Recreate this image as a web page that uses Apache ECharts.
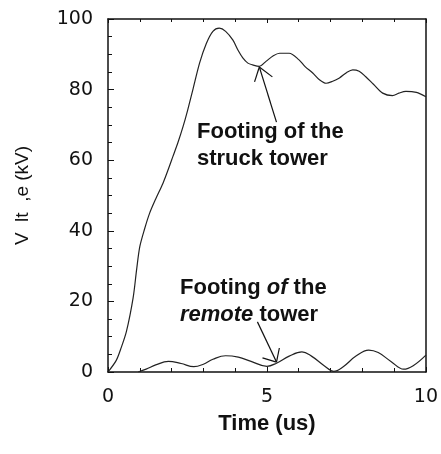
<!DOCTYPE html>
<html>
<head>
<meta charset="utf-8">
<script src="https://cdn.jsdelivr.net/npm/echarts@6/dist/echarts.min.js"></script>
<style>
  html, body { margin: 0; padding: 0; background: #fff; }
  #chart { width: 441px; height: 454px; }
</style>
</head>
<body>
<div id="chart"></div>
<script>
// struck tower footing voltage (time us, kV)
let struckTime = [0, 0.26, 0.4, 0.58, 0.79, 0.9, 1.0, 1.15, 1.31, 1.5, 1.73, 1.9, 2.04, 2.2, 2.36, 2.5, 2.67, 2.88, 3.09, 3.3, 3.5, 3.7, 3.93, 4.1, 4.24, 4.4, 4.55, 4.76, 4.97, 5.2, 5.4, 5.7, 6.0, 6.2, 6.44, 6.65, 6.86, 7.05, 7.28, 7.5, 7.7, 7.9, 8.1, 8.35, 8.64, 8.95, 9.15, 9.37, 9.7, 10]
let struckVolt = [0, 3.3, 6.5, 11.5, 21, 29, 35.5, 40.5, 45, 49, 53.5, 57.5, 61, 65, 69.5, 74, 80, 87.5, 93, 96.5, 97.4, 96.5, 94, 91, 89, 87.5, 87, 86.6, 88, 89.6, 90.3, 90.3, 88.5, 86.5, 84.7, 82.8, 81.8, 82.3, 83.3, 84.8, 85.6, 85.2, 83.7, 81.5, 79, 78.3, 79, 79.5, 79.2, 78]
// remote tower footing voltage
let remoteTime = [0.95, 1.2, 1.5, 1.9, 2.3, 2.7, 3.0, 3.3, 3.7, 4.1, 4.5, 5.0, 5.3, 5.7, 6.1, 6.4, 6.8, 7.1, 7.4, 7.8, 8.2, 8.5, 8.9, 9.3, 9.6, 10]
let remoteVolt = [0, 0.8, 2, 3, 2.4, 1.5, 2.2, 3.6, 4.6, 4.2, 3, 1.6, 2.5, 4.5, 5.7, 4.5, 1.8, 0.2, 1.5, 4.5, 6.2, 5.5, 3, 0.8, 1.8, 4.8]

// arrows: [tail, tip, head1, head2]
let struckArrow = [[5.30, 70.8], [4.76, 86.4], [4.61, 82.2], [5.17, 83.6]]
let remoteArrow = [[4.70, 14.2], [5.30, 2.8], [5.39, 6.8], [4.86, 4.0]]

let pair = (xs, ys) => xs.map((x, i) => [x, ys[i]])
let arrowLines = (a) => [
  [{ coord: a[0] }, { coord: a[1] }],
  [{ coord: a[1] }, { coord: a[2] }],
  [{ coord: a[1] }, { coord: a[3] }]
]

let Chart = echarts.init(document.getElementById('chart'))
let tickFont = { fontFamily: 'DejaVu Sans', fontSize: 19, color: '#111' }
let axisLine = () => ({ show: true, onZero: false, lineStyle: { color: '#111', width: 1.5 } })

Chart.setOption({
  animation: false,
  grid: { left: 108, right: 14, top: 19, bottom: 82 },
  xAxis: [{
    type: 'value', min: 0, max: 10, interval: 5,
    name: 'Time (us)', nameLocation: 'middle', nameGap: 41,
    nameTextStyle: { fontFamily: 'Liberation Sans', fontWeight: 'bold', fontSize: 22, color: '#111' },
    axisLine: axisLine(),
    axisTick: { show: true, inside: true, length: 5, lineStyle: { color: '#111' } },
    minorTick: { show: true, splitNumber: 5, length: 4, lineStyle: { color: '#111' } },
    axisLabel: Object.assign({ margin: 16 }, tickFont),
    splitLine: { show: false }
  }, {
    type: 'value', min: 0, max: 10, interval: 5, position: 'top',
    axisLine: axisLine(),
    axisTick: { show: true, inside: true, length: 4, lineStyle: { color: '#111' } },
    minorTick: { show: true, splitNumber: 5, length: 3, lineStyle: { color: '#111' } },
    axisLabel: { show: false },
    splitLine: { show: false }
  }],
  yAxis: [{
    type: 'value', min: 0, max: 100, interval: 20,
    name: 'V  lt  ,e (kV)', nameLocation: 'middle', nameGap: 76,
    nameTextStyle: { fontFamily: 'Liberation Sans', fontSize: 19, color: '#111' },
    axisLine: axisLine(),
    axisTick: { show: true, inside: true, length: 6, lineStyle: { color: '#111' } },
    minorTick: { show: true, splitNumber: 4, length: 4, lineStyle: { color: '#111' } },
    axisLabel: Object.assign({ margin: 15 }, tickFont),
    splitLine: { show: false }
  }, {
    type: 'value', min: 0, max: 100, interval: 20, position: 'right',
    axisLine: axisLine(),
    axisTick: { show: false },
    axisLabel: { show: false },
    splitLine: { show: false }
  }],
  series: [{
    name: 'struck', type: 'line', smooth: 0.3, symbol: 'none',
    lineStyle: { color: '#222', width: 1.2 },
    data: pair(struckTime, struckVolt),
    markLine: {
      silent: true, symbol: ['none', 'none'], label: { show: false },
      lineStyle: { color: '#111', width: 1.2, type: 'solid' },
      data: arrowLines(struckArrow)
    }
  }, {
    name: 'remote', type: 'line', smooth: 0.4, symbol: 'none',
    lineStyle: { color: '#222', width: 1.2 },
    data: pair(remoteTime, remoteVolt),
    markLine: {
      silent: true, symbol: ['none', 'none'], label: { show: false },
      lineStyle: { color: '#111', width: 1.2, type: 'solid' },
      data: arrowLines(remoteArrow)
    }
  }],
  graphic: [{
    type: 'text', left: 197, top: 118,
    style: { text: 'Footing of the\nstruck tower', font: 'bold 22px "Liberation Sans"', fill: '#111', lineHeight: 27 }
  }, {
    type: 'text', left: 180, top: 274,
    style: {
      text: 'Footing {i|of} the\n{i|remote} tower',
      font: 'bold 22px "Liberation Sans"', fill: '#111', lineHeight: 27,
      rich: { i: { font: 'italic bold 22px "Liberation Sans"', fill: '#111', lineHeight: 27 } }
    }
  }]
})
</script>
</body>
</html>
